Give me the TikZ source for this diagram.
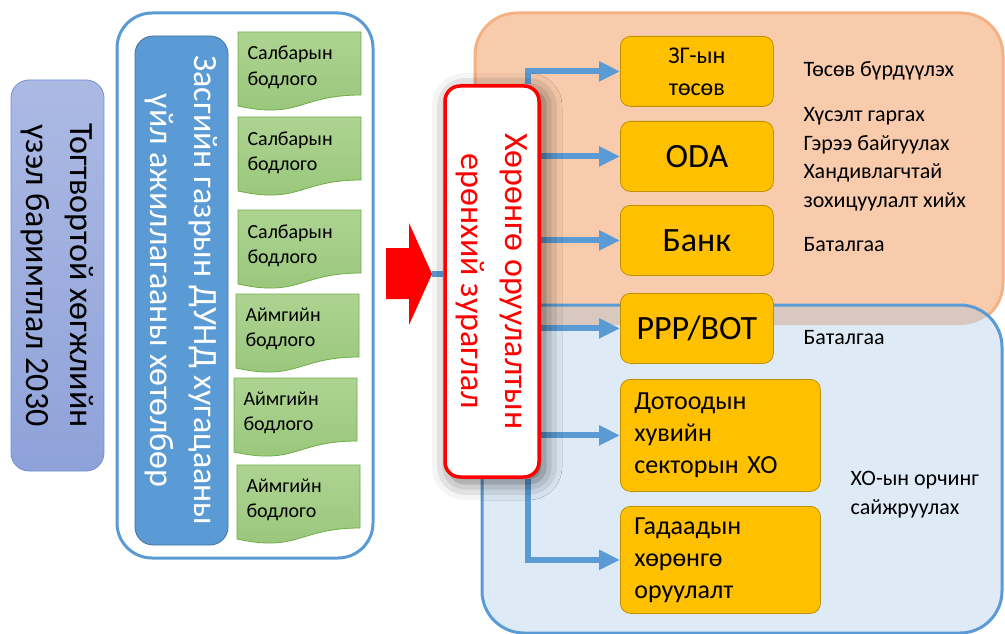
\documentclass[tikz,border=0pt]{standalone}
\usepackage{fontspec}
\setmainfont{Carlito}
\usetikzlibrary{arrows.meta,shadows.blur}
\pgfdeclarelayer{front}
\pgfsetlayers{main,front}
\definecolor{peach}{HTML}{F8CBAD}
\definecolor{peachline}{HTML}{F4B183}
\definecolor{sky}{HTML}{DEEBF7}
\definecolor{accent}{HTML}{5B9BD5}
\definecolor{steel}{HTML}{41719C}
\definecolor{blend}{HTML}{D8C8BF}
\definecolor{gold}{HTML}{FFC000}
\definecolor{goldline}{HTML}{BF9000}
\definecolor{leaftop}{HTML}{AED392}
\definecolor{leafbottom}{HTML}{98C67A}
\definecolor{leafline}{HTML}{70AD47}
\definecolor{lilactop}{HTML}{ABB9E3}
\definecolor{lilacbottom}{HTML}{8FA2D9}
\definecolor{lilacline}{HTML}{7190D3}

\begin{document}
\begin{tikzpicture}[x=1pt,y=-1pt,
    flow/.style={draw=accent,line width=6pt,-{Triangle[length=21pt,width=19pt]}},
    column/.style={rounded corners=18pt,line width=0.8pt},
    tall/.style={rotate=-90,align=center,font=\fontsize{34}{44}\selectfont},
    fund/.style={draw=goldline,fill=gold,rounded corners=10pt,line width=0.8pt,anchor=north west,
      minimum width=153pt,minimum height=70pt,font=\fontsize{34}{40}\selectfont},
    fundlong/.style={fund,text width=172pt,inner xsep=14pt,align=left,font=\fontsize{26}{32}\selectfont},
    note/.style={anchor=base west,align=left,font=\fontsize{22}{28.5}\selectfont},
    doctext/.style={anchor=base west,align=left,font=\fontsize{20}{25}\selectfont},
    pics/policy/.style={code={
      \draw[leafline,top color=leaftop,bottom color=leafbottom,line width=0.8pt]
        (0,0) -- (123,0) -- (123,63) .. controls (61.5,63) and (61.5,87.5) .. (0,74) -- cycle;}}]
  \useasboundingbox (0,0) rectangle (1005,634);
  % regions
  \draw[peachline,fill=peach,line width=3pt,rounded corners=42pt] (475,13) rectangle (1003,325);
  \fill[sky,rounded corners=42pt] (482,305) rectangle (1002,633);
  \begin{scope}
    \clip[rounded corners=42pt] (475,13) rectangle (1003,325);
    \fill[blend,rounded corners=42pt] (482,305) rectangle (1002,633);
  \end{scope}
  \draw[accent,line width=3pt,rounded corners=42pt] (482,305) rectangle (1002,633);

  % left part
  \node[column,draw=lilacline,top color=lilactop,bottom color=lilacbottom,
    minimum width=93pt,minimum height=391pt] (vision) at (57.5,275.5) {};
  \node[tall] (visiontext) at (vision) {Тогтвортой хөгжлийн\\үзэл баримтлал 2030};
  \draw[accent,fill=white,line width=3pt,rounded corners=35pt] (117,13) rectangle (373,558);
  \node[column,draw=steel,fill=accent,minimum width=93pt,minimum height=509pt] (midterm) at (181.5,290.5) {};
  \node[tall,text=white] (midtermtext) at (midterm) {Засгийн газрын ДУНД хугацааны\\үйл ажиллагааны хөтөлбөр};

  % base = last line
  \pic at (238,32) {policy};
  \node[doctext] (sector1) at (244,85) {Салбарын\\бодлого};
  \pic at (238,117) {policy};
  \node[doctext] (sector2) at (244,170) {Салбарын\\бодлого};
  \pic at (238,210) {policy};
  \node[doctext] (sector3) at (244,263) {Салбарын\\бодлого};
  \pic at (236,294) {policy};
  \node[doctext] (aimag1) at (242,346) {Аймгийн\\бодлого};
  \pic at (234,378) {policy};
  \node[doctext] (aimag2) at (240,430) {Аймгийн\\бодлого};
  \pic at (237,465) {policy};
  \node[doctext] (aimag3) at (243,517) {Аймгийн\\бодлого};

  % sources
  \node[fund,font=\fontsize{24}{32}\selectfont,align=center] (zg) at (620,36) {ЗГ-ын\\төсөв};
  \node[fund] (oda) at (620,121) {ODA};
  \node[fund] (bank) at (620,205) {Банк};
  \node[fund] (ppp) at (620,293) {PPP/BOT};
  \node[fundlong,minimum height=112pt] (dotood) at (620,379) {Дотоодын\\хувийн\\секторын ХО};
  \node[fundlong,minimum height=107pt] (gadaad) at (620,506) {Гадаадын\\хөрөнгө\\оруулалт};

  \node[note] (budget) at (800,77) {Төсөв бүрдүүлэх};
  \node[note] (donor) at (800,207) {Хүсэлт гаргах\\Гэрээ байгуулах\\Хандивлагчтай\\зохицуулалт хийх};
  \node[note] (guarantee1) at (800,251) {Баталгаа};
  \node[note] (guarantee2) at (800,344) {Баталгаа};
  \node[note] (climate) at (847,514) {ХО-ын орчинг\\сайжруулах};

  \begin{pgfonlayer}{front}
    \node[draw=red,fill=white,line width=3.5pt,rounded corners=15pt,minimum width=94pt,minimum height=391pt,
      blur shadow={shadow xshift=5pt,shadow yshift=-5pt,shadow blur radius=18pt,shadow opacity=60}] (invest) at (492,281.5) {};
    \node[tall,text=red] (investtext) at (invest) {Хөрөнгө оруулалтын\\ерөнхий зураглал};
    \fill[red] (386,248) -- (409,248) -- (409,223) -- (432,274) -- (409,325) -- (409,299) -- (386,299) -- cycle;
  \end{pgfonlayer}
  \coordinate (tip) at (432,274);

  % links
  \draw[accent,line width=6pt] (tip) -- (invest.west |- tip);
  \draw[flow] ([xshift=-13pt]invest.north east) |- (zg);
  \draw[flow] (invest.east |- oda) -- (oda);
  \draw[flow] (invest.east |- bank) -- (bank);
  \draw[flow] (invest.east |- ppp) -- (ppp);
  \draw[flow] (invest.east |- dotood) -- (dotood);
  \draw[flow] ([xshift=-13pt]invest.south east) |- (gadaad);
\end{tikzpicture}
\end{document}
